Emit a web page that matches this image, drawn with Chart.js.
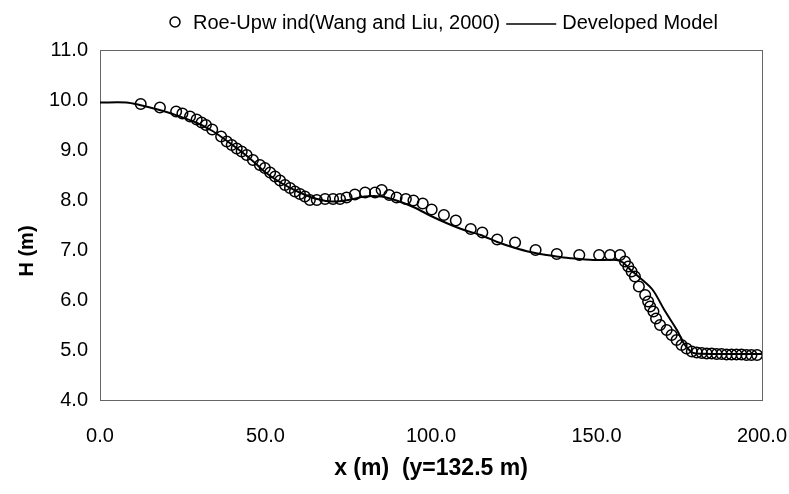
<!DOCTYPE html>
<html>
<head>
<meta charset="utf-8">
<script src="https://cdn.jsdelivr.net/npm/chart.js@4/dist/chart.umd.min.js"></script>
<style>
  html, body { margin: 0; padding: 0; background: #fff; }
  #wrap { width: 789px; height: 494px; }
</style>
</head>
<body>
<div id="wrap"><canvas id="chart"></canvas></div>
<script>
// Roe-Upwind results (circles)
var roeX = [12.3, 18.1, 23.0, 24.9, 27.2, 29.2, 30.7, 32.0, 33.9, 36.6, 38.3, 39.8, 41.3, 42.8, 44.3, 46.2,
    48.3, 49.8, 51.4, 52.9, 54.4, 55.9, 57.4, 58.9, 60.4, 61.9, 63.4, 65.5, 68.0, 70.4, 72.5, 74.5,
    77.0, 80.1, 83.1, 85.1, 87.4, 89.6, 92.4, 94.7, 97.5, 100.2, 103.9, 107.5, 112.0, 115.5, 120.0,
    125.4, 131.6, 138.0, 144.8, 150.8, 154.1, 157.1, 158.6, 159.6, 160.6, 161.6, 162.8, 164.7, 165.6,
    166.2, 167.2, 168.0, 169.2, 171.2, 172.7, 174.2, 175.7, 177.2, 178.8, 180.3, 181.8, 183.3, 184.8,
    186.3, 187.8, 189.3, 190.8, 192.3, 193.8, 195.3, 196.8, 198.5];
var roeH = [9.92, 9.85, 9.77, 9.73, 9.67, 9.61, 9.55, 9.50, 9.41, 9.27, 9.17, 9.10, 9.03, 8.97, 8.90, 8.80,
    8.70, 8.64, 8.55, 8.47, 8.39, 8.30, 8.24, 8.17, 8.12, 8.07, 8.00, 8.00, 8.02, 8.02, 8.02, 8.05,
    8.11, 8.15, 8.15, 8.20, 8.10, 8.05, 8.02, 7.99, 7.93, 7.81, 7.70, 7.59, 7.42, 7.35, 7.21,
    7.15, 7.00, 6.92, 6.90, 6.90, 6.90, 6.90, 6.77, 6.67, 6.57, 6.47, 6.27, 6.10, 5.97,
    5.87, 5.77, 5.63, 5.50, 5.40, 5.30, 5.20, 5.10, 5.03, 4.97, 4.95, 4.94, 4.93, 4.93,
    4.92, 4.92, 4.91, 4.91, 4.91, 4.91, 4.90, 4.90, 4.90];

// developed model (solid line)
var modelX = [0, 8, 12, 18, 22, 29, 34, 39, 44, 47, 50, 55, 60, 65, 70, 75, 80, 85, 90, 95, 100, 105,
    110, 115, 120, 125, 130, 135, 140, 145, 150, 156, 158, 160, 163, 167, 170.5, 174.3, 176.5, 178.5,
    180, 190, 200];
var modelH = [9.95, 9.95, 9.90, 9.80, 9.72, 9.55, 9.38, 9.15, 8.90, 8.73, 8.55, 8.33, 8.16, 8.03, 7.97,
    8.00, 8.07, 8.07, 7.98, 7.85, 7.68, 7.53, 7.40, 7.30, 7.16, 7.05, 6.96, 6.90, 6.85, 6.82, 6.80,
    6.80, 6.75, 6.62, 6.45, 6.20, 5.80, 5.40, 5.12, 4.97, 4.93, 4.92, 4.92];

var xMin = 0, xMax = 200, xStep = 50;
var yMin = 4, yMax = 11, yStep = 1;

var seriesNames = ['Roe-Upw ind(Wang and Liu, 2000)', 'Developed Model'];
var yTitle = 'H (m)';

function toPoints(xs, ys) {
    return xs.map(function (x, i) { return { x: x, y: ys[i] }; });
}

var FONT = 'Liberation Sans, Arial, sans-serif';

// legend along the top, circle marker then a short line sample;
// also the rotated y title, which sits a little below the axis middle
var labelsPlugin = {
    id: 'labelsPlugin',
    afterDraw: function (chart) {
        var ctx = chart.ctx;
        ctx.save();
        ctx.font = '20px ' + FONT;
        ctx.fillStyle = '#000';
        ctx.strokeStyle = '#000';
        ctx.textBaseline = 'middle';
        var y = 23;
        ctx.beginPath();
        ctx.arc(175, y - 1, 5, 0, Math.PI * 2);
        ctx.lineWidth = 1.5;
        ctx.stroke();
        ctx.fillText(seriesNames[0], 193, y);
        var w = ctx.measureText(seriesNames[0]).width;
        var lx = 193 + w + 6;
        ctx.beginPath();
        ctx.moveTo(lx, y + 1);
        ctx.lineTo(lx + 50, y + 1);
        ctx.stroke();
        ctx.fillText(seriesNames[1], lx + 56, y);

        ctx.translate(27, 251);
        ctx.rotate(-Math.PI / 2);
        ctx.font = 'bold 20px ' + FONT;
        ctx.textAlign = 'center';
        ctx.fillText(yTitle, 0, 0);
        ctx.restore();
    }
};

// thin frame around the plot area
var frame = {
    id: 'frame',
    beforeDatasetsDraw: function (chart) {
        var a = chart.chartArea, ctx = chart.ctx;
        ctx.save();
        ctx.strokeStyle = '#666';
        ctx.lineWidth = 1;
        ctx.strokeRect(a.left + 0.5, a.top + 0.5, a.right - a.left, a.bottom - a.top);
        ctx.restore();
    }
};

new Chart(document.getElementById('chart'), {
    type: 'scatter',
    data: {
        datasets: [
            {
                label: seriesNames[0],
                data: toPoints(roeX, roeH),
                showLine: false,
                pointStyle: 'circle',
                pointRadius: 5.3,
                pointBorderWidth: 1.5,
                pointBorderColor: '#000',
                pointBackgroundColor: 'rgba(255,255,255,0)',
                order: 1
            },
            {
                label: seriesNames[1],
                data: toPoints(modelX, modelH),
                showLine: true,
                tension: 0.3,
                borderColor: '#000',
                borderWidth: 2,
                pointRadius: 0,
                order: 2
            }
        ]
    },
    options: {
        responsive: true,
        maintainAspectRatio: false,
        animation: false,
        layout: { padding: { top: 50, right: 27, left: 0, bottom: 0 } },
        plugins: {
            legend: { display: false },
            tooltip: { enabled: false }
        },
        scales: {
            x: {
                type: 'linear',
                min: xMin, max: xMax,
                afterFit: function (s) {
                    s.height = 94;
                    s.paddingLeft = 0;
                    s.paddingRight = 0;
                },
                grid: { display: false, drawTicks: true, tickLength: 5, tickColor: '#444' },
                border: { color: '#444' },
                ticks: {
                    stepSize: xStep,
                    padding: 19,
                    color: '#000',
                    font: { family: FONT, size: 20 },
                    maxRotation: 0,
                    callback: function (v) { return v.toFixed(1); }
                },
                title: {
                    display: true,
                    text: 'x (m)  (y=132.5 m)',
                    color: '#000',
                    font: { family: FONT, size: 23, weight: 'bold' },
                    padding: { top: 0, bottom: 12 }
                }
            },
            y: {
                min: yMin, max: yMax,
                afterFit: function (s) {
                    s.width = 100;
                    s.paddingTop = 0;
                    s.paddingBottom = 0;
                },
                grid: { display: false, drawTicks: true, tickLength: 5, tickColor: '#444' },
                border: { color: '#444' },
                ticks: {
                    stepSize: yStep,
                    padding: 7,
                    color: '#000',
                    font: { family: FONT, size: 20 },
                    callback: function (v) { return v.toFixed(1); }
                },
                title: { display: false }
            }
        }
    },
    plugins: [frame, labelsPlugin]
});
</script>
</body>
</html>
